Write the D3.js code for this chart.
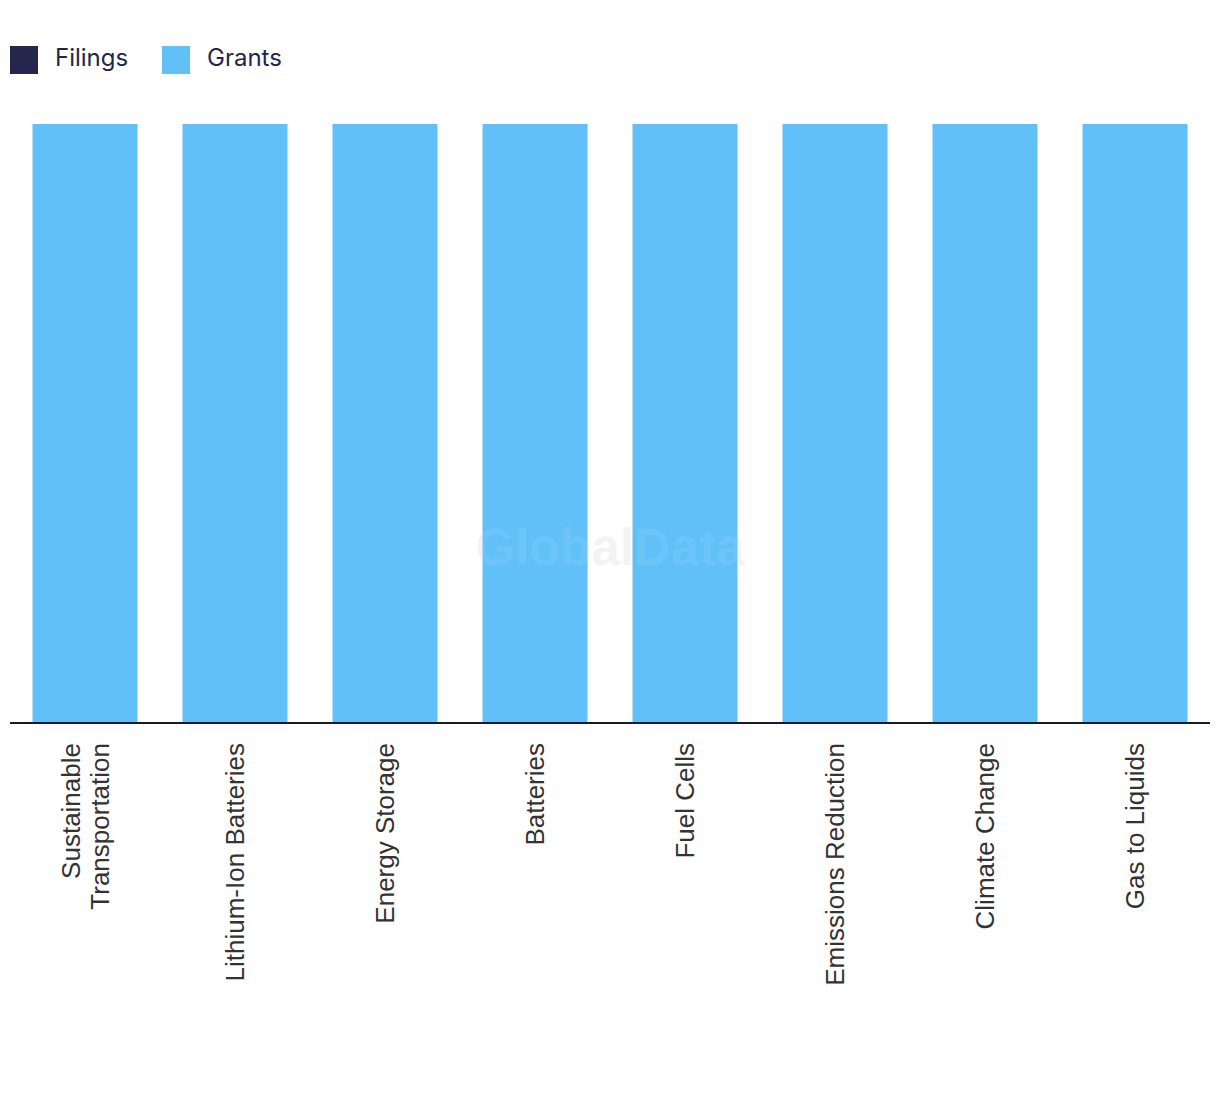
<!DOCTYPE html>
<html>
<head>
<meta charset="utf-8">
<script src="https://cdn.jsdelivr.net/npm/d3@7"></script>
<style>
  html, body { margin: 0; padding: 0; background: #fff; }
  svg { display: block; }
</style>
</head>
<body>
<svg id="chart" width="1220" height="1094"></svg>
<script>
const categories = ["Sustainable Transportation", "Lithium-Ion Batteries", "Energy Storage", "Batteries", "Fuel Cells", "Emissions Reduction", "Climate Change", "Gas to Liquids"];
const labelLines = [["Sustainable", "Transportation"], ["Lithium-Ion Batteries"], ["Energy Storage"], ["Batteries"], ["Fuel Cells"], ["Emissions Reduction"], ["Climate Change"], ["Gas to Liquids"]];
const seriesNames = ["Filings", "Grants"];
const filings = [0, 0, 0, 0, 0, 0, 0, 0];
const grants = [100, 100, 100, 100, 100, 100, 100, 100];
const colors = ["#25264d", "#62c0f8"];

const svg = d3.select("#chart");

const rows = categories.map((c, i) => ({ cat: c, Filings: filings[i], Grants: grants[i] }));
const stack = d3.stack().keys(seriesNames)(rows);

const x = d3.scaleBand().domain(categories).range([10, 1210]).paddingInner(0.3).paddingOuter(0.15);
const y = d3.scaleLinear().domain([0, 100]).range([723, 124]);

// watermark (behind)
svg.append("text")
  .attr("x", 610).attr("y", 565)
  .attr("text-anchor", "middle")
  .attr("font-family", "Liberation Sans, Arial, sans-serif")
  .attr("font-weight", "bold")
  .attr("font-size", 51)
  .attr("fill", "#f3f3f3")
  .text("GlobalData");

// bars
svg.append("g").selectAll("g").data(stack).join("g")
  .attr("fill", (d, i) => colors[i])
  .selectAll("rect").data(d => d).join("rect")
  .attr("x", d => x(d.data.cat))
  .attr("width", x.bandwidth())
  .attr("y", d => y(d[1]))
  .attr("height", d => y(d[0]) - y(d[1]));

// watermark over bars (faint)
svg.append("text")
  .attr("x", 610).attr("y", 565)
  .attr("text-anchor", "middle")
  .attr("font-family", "Liberation Sans, Arial, sans-serif")
  .attr("font-weight", "bold")
  .attr("font-size", 51)
  .attr("fill", "#ffffff")
  .attr("opacity", 0.07)
  .text("GlobalData");

// x axis
const xAxis = d3.axisBottom(x).tickSize(0).tickFormat("");
const ax = svg.append("g").attr("transform", "translate(0,723)").call(xAxis);
ax.select(".domain").attr("stroke", "#1a1a2e").attr("stroke-width", 2).attr("d", "M10,0H1210");

// labels
const lab = svg.append("g");
categories.forEach((c, i) => {
  const lines = labelLines[i];
  const cx = x(c) + x.bandwidth() / 2;
  const lh = 29;
  const t = lab.append("text")
    .attr("transform", `translate(${cx},743) rotate(-90)`)
    .attr("text-anchor", "end")
    .attr("font-family", "Liberation Sans, Arial, sans-serif")
    .attr("font-size", 26)
    .attr("fill", "#333333");
  lines.forEach((l, j) => {
    const off = (j - (lines.length - 1) / 2) * lh;
    t.append("tspan").attr("x", 0).attr("y", off + 9).text(l);
  });
});

// legend
const leg = svg.append("g");
const legX = [10, 162];
seriesNames.forEach((s, i) => {
  leg.append("rect").attr("x", legX[i]).attr("y", 46).attr("width", 28).attr("height", 28).attr("fill", colors[i]);
  leg.append("text").attr("x", legX[i] + 45).attr("y", 66)
    .attr("font-family", "Inter, 'Open Sans', sans-serif")
    .attr("font-size", 24)
    .attr("fill", "#23254a")
    .text(s);
});
</script>
</body>
</html>
